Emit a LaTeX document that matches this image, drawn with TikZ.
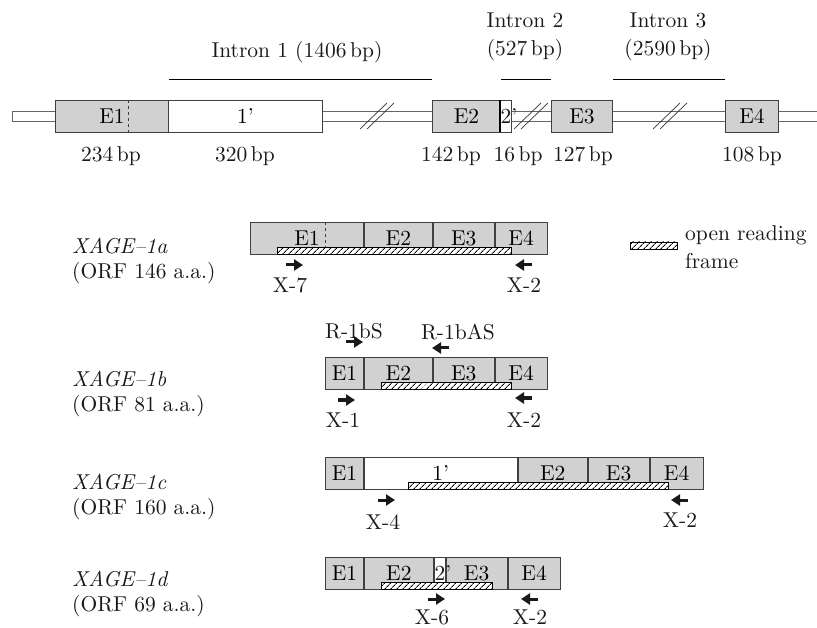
\documentclass[tikz,border=0pt]{standalone}
\usepackage{fontspec}
\setmainfont{lmroman10-regular}[Extension=.otf, ItalicFont=lmroman10-italic]
\usepackage{tikz}
\usetikzlibrary{arrows.meta,patterns.meta}
\newcommand{\figfont}{\fontsize{21.5}{28}\selectfont}
\tikzset{
  % grey exon box
  exon/.style   = {rectangle, draw=black!75, line width=0.9pt, fill=black!18,
                   anchor=west, minimum height=32pt, inner sep=0pt},
  % white box for retained intron sequence (1', 2')
  ret/.style    = {exon, fill=white},
  % genomic backbone and break marks
  bb/.style     = {draw=black!60, line width=0.9pt},
  brk/.style    = {draw=black!80, line width=0.7pt},
  % intron span bars
  span/.style   = {draw=black, line width=0.6pt},
  % hatched open reading frame strip
  orf/.style    = {draw=black, line width=0.6pt, preaction={fill=white},
                   pattern={Lines[angle=45,distance=4pt,line width=0.9pt]}},
  % plain text label
  txt/.style    = {inner sep=0pt, align=center, text=black!90},
  % transcript name on the left
  tname/.style  = {txt, anchor=west, align=left, font=\fontsize{21.5}{25}\selectfont},
  % primer arrow
  primer/.style = {-{Triangle[length=9pt,width=11pt]}, line width=3pt, black!90},
}

\begin{document}
\begin{tikzpicture}[x=1pt, y=-1pt, font=\figfont]
  \useasboundingbox (0,0) rectangle (817,628);

  % ---- genomic structure ----
  \draw[bb] (817,111) -- (12,111) -- (12,121) -- (817,121);
  \node[exon, minimum width=113pt] (ge1) at (55,116)  {E1};
  \node[ret,  minimum width=154pt] (gi1) at (168,116) {1'};
  \node[exon, minimum width=68pt]  (ge2) at (432,116) {E2};
  \node[ret,  minimum width=11pt]  (gi2) at (500,116) {};
  \node[exon, minimum width=61pt]  (ge3) at (551,116) {E3};
  \node[exon, minimum width=53pt]  (ge4) at (725,116) {E4};
  \draw[dashed, black!75, line width=0.7pt] (128,100) -- (128,132);
  \draw[black, line width=1.6pt] (gi2.north west) -- (gi2.south west);
  \node[txt, anchor=west] (gi2t) at ([xshift=0.5pt]gi2.west) {2'};

  % break marks
  \foreach \s in {360,514,653}
    \draw[brk] (\s,129) -- ++(27,-26) (\s+7,129) -- ++(27,-26);

  % intron spans
  \coordinate (lvl) at (0,79);
  \draw[span] (ge1.east |- lvl) -- (ge2.west |- lvl);
  \draw[span] (ge2.east |- lvl) -- (ge3.west |- lvl);
  \draw[span] (ge3.east |- lvl) -- (ge4.west |- lvl);
  \node[txt] (in1) at (297,52) {Intron 1 (1406\,bp)};
  \node[txt] (in2) at (525,37) {Intron 2\\(527\,bp)};
  \node[txt] (in3) at (668,37) {Intron 3\\(2590\,bp)};

  % segment sizes
  \foreach \x/\t in {111/234, 245/320, 451/142, 518/16, 583/127, 752/108}
    \node[txt] (sz\t) at (\x,156) {\t\,bp};

  % ---- XAGE-1a ----
  \node[tname] (alab) at (72,261) {\textit{XAGE--1a}\\(ORF 146 a.a.)};
  \node[exon, minimum width=113pt] (ae1) at (250,238)  {E1};
  \node[exon, minimum width=68pt]  (ae2) at (ae1.east) {E2};
  \node[exon, minimum width=61pt]  (ae3) at (ae2.east) {E3};
  \node[exon, minimum width=52pt]  (ae4) at (ae3.east) {E4};
  \draw[dashed, black!75, line width=0.7pt] (325,222) -- (325,254);
  \draw[orf] (277,247.5) rectangle (511,254);
  \draw[primer] (286,265) -- (303,265);
  \node[txt] (ax7) at (290,285) {X-7};
  \draw[primer] (532,265) -- (515,265);
  \node[txt] (ax2) at (524,285) {X-2};

  % legend
  \draw[orf] (630,242) rectangle (677,249.5);
  \node[txt, anchor=west, align=left] (leg) at (685,247) {open reading\\frame};

  % ---- XAGE-1b ----
  \node[tname] (blab) at (72,394) {\textit{XAGE--1b}\\(ORF 81 a.a.)};
  \node[exon, minimum width=38pt] (be1) at (325,373)  {E1};
  \node[exon, minimum width=68pt] (be2) at (be1.east) {E2};
  \node[exon, minimum width=61pt] (be3) at (be2.east) {E3};
  \node[exon, minimum width=52pt] (be4) at (be3.east) {E4};
  \draw[orf] (381,382.5) rectangle (511,389);
  \node[txt] (brs) at (354,331) {R-1bS};
  \draw[primer] (346,342) -- (363,342);
  \node[txt] (bras) at (458,332) {R-1bAS};
  \draw[primer] (449,348) -- (432,348);
  \draw[primer] (338,400) -- (355,400);
  \node[txt] (bx1) at (343,420) {X-1};
  \draw[primer] (532,398) -- (515,398);
  \node[txt] (bx2) at (524,420) {X-2};

  % ---- XAGE-1c ----
  \node[tname] (clab) at (72,497) {\textit{XAGE--1c}\\(ORF 160 a.a.)};
  \node[exon, minimum width=38pt]  (ce1) at (325,473)  {E1};
  \node[ret,  minimum width=153pt] (ci1) at (ce1.east) {1'};
  \node[exon, minimum width=69pt]  (ce2) at (ci1.east) {E2};
  \node[exon, minimum width=61pt]  (ce3) at (ce2.east) {E3};
  \node[exon, minimum width=53pt]  (ce4) at (ce3.east) {E4};
  \draw[orf] (408,482.5) rectangle (668,489);
  \draw[primer] (378,500) -- (395,500);
  \node[txt] (cx4) at (383,522) {X-4};
  \draw[primer] (688,500) -- (671,500);
  \node[txt] (cx2) at (680,520) {X-2};

  % ---- XAGE-1d ----
  \node[tname] (dlab) at (72,594) {\textit{XAGE--1d}\\(ORF 69 a.a.)};
  \node[exon, minimum width=38pt] (de1) at (325,573)  {E1};
  \node[exon, minimum width=69pt] (de2) at (de1.east) {E2};
  \node[ret,  minimum width=11pt] (di2) at (de2.east) {};
  \node[exon, minimum width=61pt] (de3) at (di2.east) {E3};
  \node[exon, minimum width=52pt] (de4) at (de3.east) {E4};
  \node[txt, anchor=west] (di2t) at ([xshift=0.5pt]di2.west) {2'};
  \draw[orf] (381,582.5) rectangle (492,589);
  \draw[primer] (428,599) -- (445,599);
  \node[txt] (dx6) at (432,617) {X-6};
  \draw[primer] (538,599) -- (521,599);
  \node[txt] (dx2) at (530,617) {X-2};
\end{tikzpicture}
\end{document}
